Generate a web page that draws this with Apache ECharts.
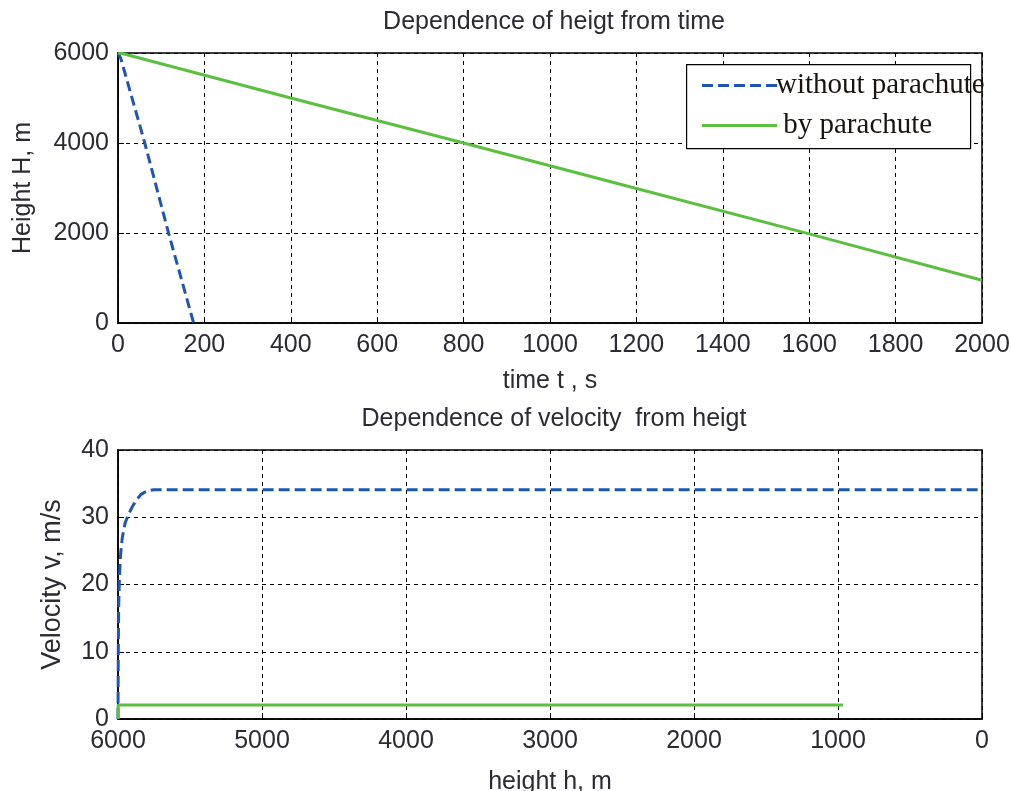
<!DOCTYPE html>
<html>
<head>
<meta charset="utf-8">
<script src="https://cdn.jsdelivr.net/npm/echarts@6/dist/echarts.min.js"></script>
<style>
html,body{margin:0;padding:0;background:#fff;}
#chart{width:1011px;height:791px;}
</style>
</head>
<body>
<div id="chart"></div>
<script>
// ---- data ----
var titles = ['Dependence of heigt from time', 'Dependence of velocity  from heigt'];
var seriesNames = ['without parachute', 'by parachute'];
// top: height H (m) vs time t (s)
var heightNoChute = [[0,6000],[3,5965],[6,5890],[10,5760],[62,4000],[117,2000],[175,0]];
var heightChute = [[0,6000],[10,5990],[400,5000],[800,4000],[1200,2990],[1600,1980],[2000,950]];
// bottom: velocity v (m/s) vs height h (m)
var velNoChute = [[6000,0],[5998,10],[5995,17],[5990,21],[5982,24.5],[5970,27],[5950,29.2],[5925,30.5],[5900,31.6],[5870,32.6],[5840,33.4],[5800,33.9],[5750,34.1],[0,34.1]];
var velChute = [[6000,0],[5999,2.1],[965,2.1]];

var font = 'Liberation Sans, Arial, sans-serif';
var txt = '#2b2b33';
var blue = '#2156b0';
var green = '#5bbf3f';
var plain = function (v) { return String(v); };

function xAx(grid, min, max, interval, name, gap, inverse) {
  return {
    type: 'value', gridIndex: grid, min: min, max: max, interval: interval, inverse: !!inverse,
    name: name, nameLocation: 'middle', nameGap: gap,
    nameTextStyle: {fontFamily: font, fontSize: 25, color: txt},
    axisLine: {show: true, onZero: false, lineStyle: {color: '#000', width: 1.5}},
    axisTick: {show: true, inside: true, length: 6, lineStyle: {color: '#000'}},
    axisLabel: {fontFamily: font, fontSize: 25, color: txt, margin: 10, formatter: plain},
    splitLine: {show: true, lineStyle: {color: '#000', type: [4, 4], width: 1}}
  };
}
function yAx(grid, min, max, interval, name, gap, nameSize) {
  return {
    type: 'value', gridIndex: grid, min: min, max: max, interval: interval,
    name: name, nameLocation: 'middle', nameGap: gap,
    nameTextStyle: {fontFamily: font, fontSize: nameSize, color: txt},
    axisLine: {show: true, onZero: false, lineStyle: {color: '#000', width: 1.5}},
    axisTick: {show: true, inside: true, length: 6, lineStyle: {color: '#000'}},
    axisLabel: {fontFamily: font, fontSize: 25, color: txt, margin: 9, formatter: plain},
    splitLine: {show: true, lineStyle: {color: '#000', type: [4, 4], width: 1}}
  };
}

var dashIcon = 'path://M0,0h11v3h-11z M16,0h11v3h-11z M32,0h11v3h-11z M48,0h11v3h-11z M64,0h11v3h-11z';
var solidIcon = 'path://M0,0h75v3h-75z';

var chart = echarts.init(document.getElementById('chart'), null, {renderer: 'canvas'});
chart.setOption({
  animation: false,
  backgroundColor: '#fff',
  title: [
    {text: titles[0], left: 549, top: 5, textAlign: 'center',
     textStyle: {fontFamily: font, fontSize: 25, fontWeight: 'normal', color: txt}},
    {text: titles[1], left: 549, top: 402, textAlign: 'center',
     textStyle: {fontFamily: font, fontSize: 25, fontWeight: 'normal', color: txt}}
  ],
  grid: [
    {left: 118, top: 53, width: 864, height: 270, show: true, borderColor: '#000', borderWidth: 1.5,
     backgroundColor: 'transparent', containLabel: false, outerBoundsMode: 'none'},
    {left: 118, top: 450, width: 864, height: 269, show: true, borderColor: '#000', borderWidth: 1.5,
     backgroundColor: 'transparent', containLabel: false, outerBoundsMode: 'none'}
  ],
  graphic: [
    {type: 'rect', left: 686, top: 64, z: 3, shape: {width: 284, height: 84},
     style: {fill: '#fff', stroke: '#000', lineWidth: 1.2}}
  ],
  xAxis: [
    xAx(0, 0, 2000, 200, 'time t , s', 46),
    xAx(1, 0, 6000, 1000, 'height h, m', 51, true)
  ],
  yAxis: [
    yAx(0, 0, 6000, 2000, 'Height H, m', 82, 25),
    yAx(1, 0, 40, 10, 'Velocity v, m/s', 52, 27)
  ],
  legend: {
    show: true, orient: 'vertical', left: 686, top: 64, z: 5,
    padding: [7, 10, 10, 16], itemGap: 11, itemWidth: 75, itemHeight: 3,
    formatter: function (name) { return name === seriesNames[1] ? ' ' + name : name; },
    textStyle: {fontFamily: 'Liberation Serif, Times New Roman, serif', fontSize: 29, color: '#1a1410', lineHeight: 26, padding: [0, 0, 0, -6]},
    data: [
      {name: seriesNames[0], icon: dashIcon},
      {name: seriesNames[1], icon: solidIcon}
    ]
  },
  series: [
    {name: seriesNames[0], type: 'line', xAxisIndex: 0, yAxisIndex: 0, data: heightNoChute, symbol: 'none',
     lineStyle: {color: blue, width: 3, type: [10, 5]}, itemStyle: {color: blue}},
    {name: seriesNames[1], type: 'line', xAxisIndex: 0, yAxisIndex: 0, data: heightChute, symbol: 'none',
     lineStyle: {color: green, width: 3}, itemStyle: {color: green}},
    {name: seriesNames[0], type: 'line', xAxisIndex: 1, yAxisIndex: 1, data: velNoChute, symbol: 'none',
     lineStyle: {color: blue, width: 3, type: [11, 5]}, itemStyle: {color: blue}},
    {name: seriesNames[1], type: 'line', xAxisIndex: 1, yAxisIndex: 1, data: velChute, symbol: 'none',
     lineStyle: {color: green, width: 3}, itemStyle: {color: green}}
  ]
});
</script>
</body>
</html>
